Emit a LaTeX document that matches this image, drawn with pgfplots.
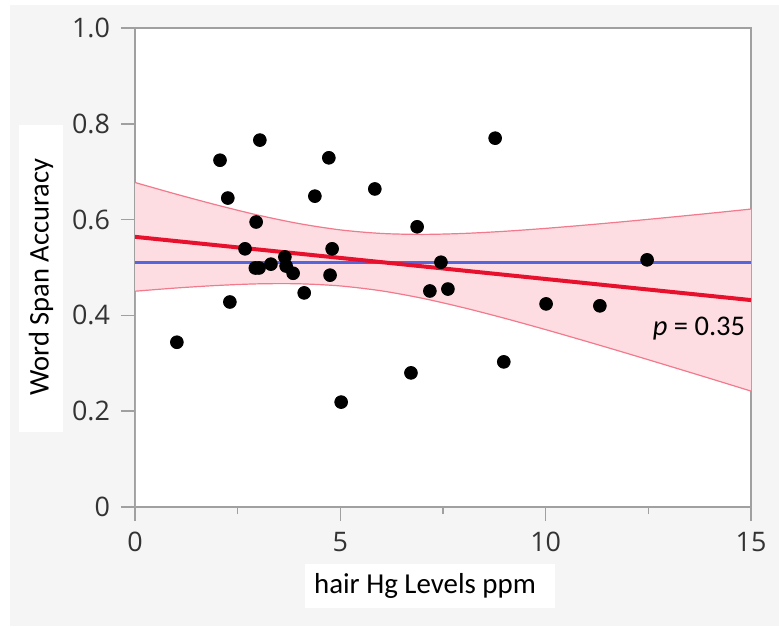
\documentclass[border=0pt]{standalone}
\usepackage{pgfplots}
\pgfplotsset{compat=1.18}
\usepackage{fontspec}
\setmainfont{Carlito}
\newfontfamily\tickfont{Open Sans}
\definecolor{bgpanel}{HTML}{F5F5F5}
\definecolor{axgray}{HTML}{A0A0A0}
\definecolor{ticktext}{HTML}{333333}
\definecolor{bandfill}{HTML}{FDDDE2}
\definecolor{bandedge}{HTML}{F27A8C}
\definecolor{fitred}{HTML}{E8112D}
\definecolor{meanblue}{HTML}{5566DD}
\begin{document}
\begin{tikzpicture}
% background
\fill[white] (0bp,0bp) rectangle (389.5bp,-313.5bp);
\fill[bgpanel] (5bp,-2.5bp) rectangle (389.5bp,-313bp);
\fill[white] (9.5bp,-62.5bp) rectangle (31.5bp,-216bp);
\fill[white] (152.5bp,-282bp) rectangle (277.5bp,-304bp);
\begin{axis}[
  at={(67.5bp,-253.5bp)}, anchor=south west,
  scale only axis, width=308bp, height=239.5bp,
  xmin=0, xmax=15, ymin=0, ymax=1,
  axis background/.style={fill=white},
  axis line style={axgray, line width=0.8bp},
  xtick={0,5,10,15}, minor xtick={2.5,7.5,12.5},
  ytick={0,0.2,0.4,0.6,0.8,1.0},
  yticklabels={0,0.2,0.4,0.6,0.8,1.0},
  xticklabels={0,5,10,15},
  tick align=outside, xtick pos=lower, ytick pos=left,
  major tick length=7bp, minor tick length=3.5bp,
  every tick/.style={axgray, line width=0.8bp},
  tick label style={font=\tickfont\fontsize{13.5}{16}\selectfont, text=ticktext},
  /pgf/number format/assume math mode=true,
  xticklabel style={yshift=-2bp},
  yticklabel style={xshift=-2bp},
  clip=true,
]
% confidence band
\addplot[draw=none, fill=bandfill] coordinates {
(0,0.6775) (1,0.6532) (2,0.6303) (3,0.6093) (4,0.5916) (5,0.5785) (6,0.5711) (7,0.5691) (8,0.5711) (9,0.5756) (10,0.5817) (11,0.5888) (12,0.5965) (13,0.6047) (14,0.6132) (15,0.6220)
(15,0.2420) (14,0.2684) (13,0.2945) (12,0.3203) (11,0.3456) (10,0.3703) (9,0.3940) (8,0.4161) (7,0.4357) (6,0.4513) (5,0.4615) (4,0.4660) (3,0.4659) (2,0.4625) (1,0.4572) (0,0.4505)
} \closedcycle;
\addplot[bandedge, line width=0.6bp, smooth] coordinates {
(0,0.6775) (1,0.6532) (2,0.6303) (3,0.6093) (4,0.5916) (5,0.5785) (6,0.5711) (7,0.5691) (8,0.5711) (9,0.5756) (10,0.5817) (11,0.5888) (12,0.5965) (13,0.6047) (14,0.6132) (15,0.6220)};
\addplot[bandedge, line width=0.6bp, smooth] coordinates {
(0,0.4505) (1,0.4572) (2,0.4625) (3,0.4659) (4,0.4660) (5,0.4615) (6,0.4513) (7,0.4357) (8,0.4161) (9,0.3940) (10,0.3703) (11,0.3456) (12,0.3203) (13,0.2945) (14,0.2684) (15,0.2420)};
% mean line
\addplot[meanblue, line width=1.7bp] coordinates {(0,0.511) (15,0.511)};
% fit line
\addplot[fitred, line width=2bp] coordinates {(0,0.564) (15,0.432)};
% data
\addplot[only marks, mark=*, mark size=3.2bp, black] coordinates {
(1.02,0.344) (2.07,0.724) (2.26,0.645) (2.31,0.428) (2.68,0.539)
(2.95,0.595) (2.93,0.499) (3.02,0.499) (3.04,0.766) (3.31,0.507)
(3.65,0.522) (3.68,0.503) (3.85,0.488) (4.12,0.447) (4.38,0.649)
(4.72,0.729) (4.80,0.539) (4.75,0.484) (5.02,0.219) (5.84,0.664)
(6.72,0.280) (6.87,0.585) (7.18,0.451) (7.45,0.511) (7.62,0.455)
(8.77,0.770) (8.98,0.303) (10.01,0.424) (11.32,0.420) (12.47,0.516)
};
\end{axis}
\node[font=\fontsize{14.3}{16}\selectfont, rotate=90] at (20.5bp,-138.5bp) {Word Span Accuracy};
\node[font=\fontsize{14.5}{16}\selectfont] at (212.5bp,-293bp) {hair Hg Levels ppm};
\node[font=\fontsize{14.3}{16}\selectfont] at (349.5bp,-164.5bp) {\textit{p} = 0.35};
\end{tikzpicture}
\end{document}
